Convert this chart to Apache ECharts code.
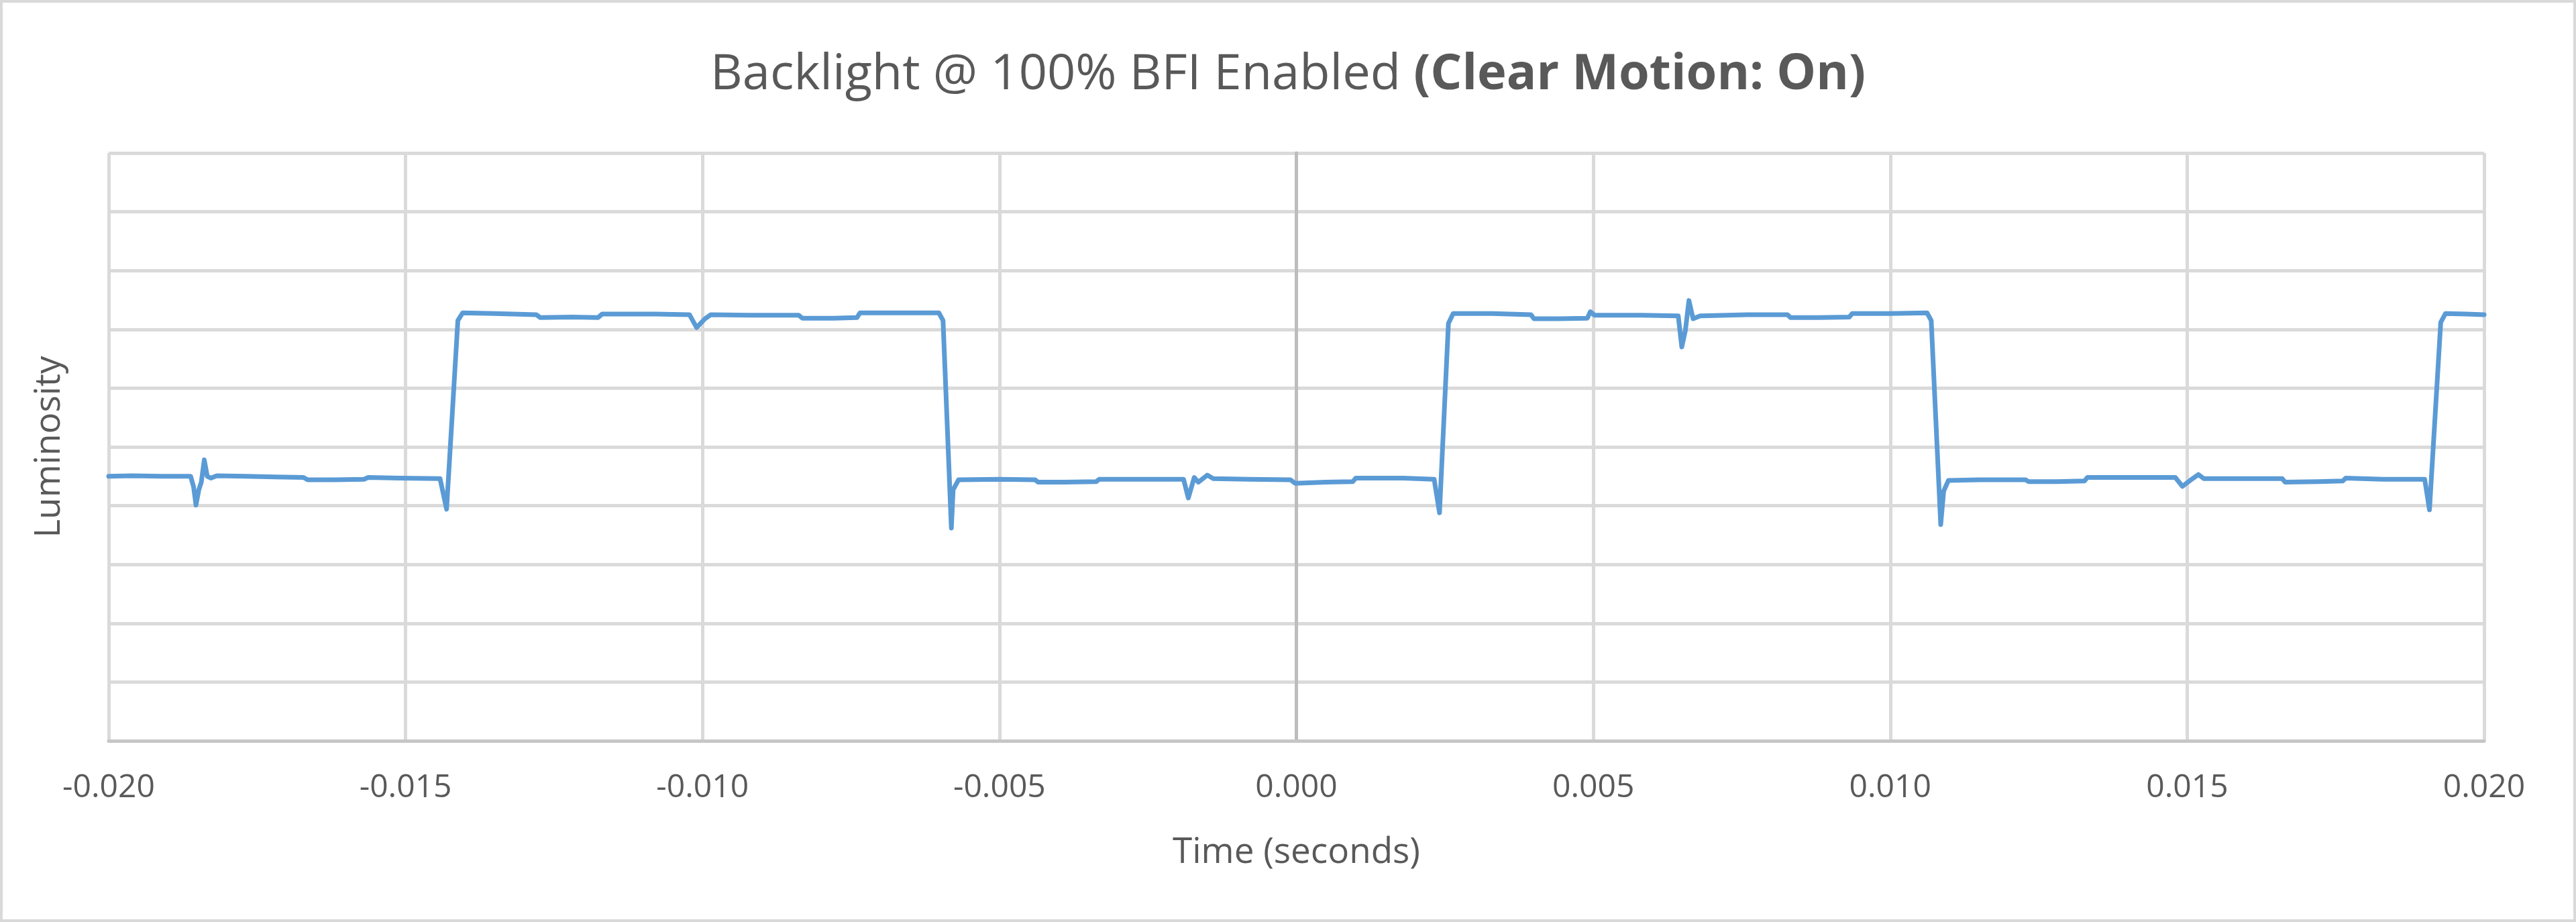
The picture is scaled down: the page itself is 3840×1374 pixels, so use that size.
<!DOCTYPE html>
<html>
<head>
<meta charset="utf-8">
<title>Backlight @ 100% BFI Enabled</title>
<script src="https://cdn.jsdelivr.net/npm/echarts/dist/echarts.min.js"></script>
<style>
  html, body { margin: 0; padding: 0; background: #fff; }
  #chart { width: 3840px; height: 1374px; }
</style>
</head>
<body>
<div id="chart"></div>
<script>
// time axis ticks (seconds)
var xTicks = [-0.020, -0.015, -0.010, -0.005, 0.000, 0.005, 0.010, 0.015, 0.020];

var timeSec = [
  -0.0200, -0.0196, -0.0191, -0.01862, -0.01857, -0.01853, -0.01848, -0.01844, -0.01839, -0.01834,
  -0.01828, -0.01818, -0.0177, -0.01720, -0.01672, -0.01665, -0.0162, -0.01570, -0.01563, -0.0151,
  -0.01442, -0.01431, -0.01412, -0.01404, -0.0135, -0.01280, -0.01273, -0.0122, -0.01176, -0.01169,
  -0.0108, -0.01022, -0.01010, -0.00996, -0.00986, -0.0092, -0.00838, -0.00832, -0.0078, -0.00740,
  -0.00735, -0.0066, -0.00602, -0.00595, -0.00581, -0.00578, -0.00569, -0.0050, -0.00440, -0.00435,
  -0.0039, -0.00337, -0.00332, -0.0025, -0.00190, -0.00182, -0.00172, -0.00165, -0.00150, -0.00140,
  -0.0008, -0.00010, -0.00002, 0.0005, 0.00095, 0.00100, 0.0018, 0.00232, 0.00241, 0.00256,
  0.00264, 0.0033, 0.00395, 0.00400, 0.0044, 0.00490, 0.00495, 0.00502, 0.0058, 0.00643,
  0.00649, 0.00655, 0.00661, 0.00668, 0.00680, 0.0076, 0.00827, 0.00832, 0.0088, 0.00931,
  0.00936, 0.0100, 0.01062, 0.01069, 0.01085, 0.01090, 0.01098, 0.0115, 0.01228, 0.01233,
  0.0128, 0.01327, 0.01332, 0.0140, 0.01480, 0.01492, 0.01505, 0.01519, 0.01528, 0.0160,
  0.01660, 0.01665, 0.0172, 0.01762, 0.01767, 0.0183, 0.01900, 0.01908, 0.01927, 0.01935,
  0.0197, 0.0200
];
var luminosity = [
  4.50, 4.51, 4.50, 4.50, 4.32, 4.01, 4.28, 4.40, 4.78, 4.50,
  4.47, 4.51, 4.50, 4.49, 4.48, 4.44, 4.44, 4.45, 4.48, 4.47,
  4.46, 3.94, 7.15, 7.28, 7.27, 7.25, 7.20, 7.21, 7.20, 7.26,
  7.26, 7.25, 7.03, 7.18, 7.25, 7.24, 7.24, 7.19, 7.19, 7.20,
  7.28, 7.28, 7.28, 7.15, 3.62, 4.27, 4.44, 4.45, 4.44, 4.40,
  4.40, 4.41, 4.45, 4.45, 4.45, 4.13, 4.48, 4.40, 4.52, 4.46,
  4.45, 4.44, 4.38, 4.40, 4.41, 4.47, 4.47, 4.45, 3.88, 7.10,
  7.27, 7.27, 7.25, 7.18, 7.18, 7.19, 7.30, 7.24, 7.24, 7.23,
  6.70, 6.98, 7.49, 7.18, 7.23, 7.25, 7.25, 7.20, 7.20, 7.21,
  7.27, 7.27, 7.28, 7.15, 3.68, 4.25, 4.43, 4.44, 4.44, 4.41,
  4.41, 4.42, 4.48, 4.48, 4.48, 4.33, 4.43, 4.53, 4.46, 4.46,
  4.46, 4.40, 4.41, 4.42, 4.47, 4.45, 4.45, 3.93, 7.12, 7.27,
  7.26, 7.25
];

var points = timeSec.map(function(t, i) {
  return [t, luminosity[i]];
});

var textColor = "#595959";
var gridColor = "#dadada";
var fontName = "Open Sans";

var option = {
  animation: false,
  backgroundColor: "#fff",
  title: {
    left: "center",
    top: 70,
    text: "{a|Backlight @ 100% BFI Enabled }{b|(Clear Motion: On)}",
    textStyle: {
      fontWeight: "normal",
      rich: {
        a: { fontFamily: fontName, fontSize: 74, fontWeight: "normal", color: textColor },
        b: { fontFamily: fontName, fontSize: 74, fontWeight: "bold", color: textColor }
      }
    }
  },
  graphic: [
    {
      // outer chart frame
      type: "rect",
      shape: { x: 2, y: 2, width: 3836, height: 1370 },
      style: { fill: null, stroke: "#d9d9d9", lineWidth: 4 },
      silent: true
    }
  ],
  grid: {
    left: 162,
    right: 137,
    top: 228,
    bottom: 270
  },
  xAxis: {
    type: "value",
    min: xTicks[0],
    max: xTicks[xTicks.length - 1],
    interval: 0.005,
    name: "Time (seconds)",
    nameLocation: "middle",
    nameGap: 140,
    nameTextStyle: { fontFamily: fontName, fontSize: 53, color: textColor },
    axisLine: { show: true, lineStyle: { color: "#c6c6c6", width: 5 } },
    axisTick: { show: false },
    axisLabel: {
      margin: 46,
      showMinLabel: true,
      showMaxLabel: true,
      fontFamily: fontName,
      fontSize: 48,
      color: textColor,
      formatter: function(v) {
        return v.toFixed(3);
      }
    },
    splitLine: { show: true, lineStyle: { color: gridColor, width: 5 } }
  },
  yAxis: [
    {
      type: "value",
      min: 0,
      max: 10,
      interval: 1,
      name: "Luminosity",
      nameLocation: "middle",
      nameGap: 62,
      nameTextStyle: { fontFamily: fontName, fontSize: 53, color: textColor },
      axisLine: { show: false, onZero: false },
      axisTick: { show: false },
      axisLabel: { show: false },
      splitLine: { show: true, lineStyle: { color: gridColor, width: 5 } }
    },
    {
      // vertical axis line crossing at t = 0
      type: "value",
      min: 0,
      max: 10,
      position: "left",
      axisLine: { show: true, onZero: true, lineStyle: { color: "#bdbdbd", width: 5 } },
      axisTick: { show: false },
      axisLabel: { show: false },
      splitLine: { show: false }
    }
  ],
  series: [
    {
      name: "Luminosity",
      type: "line",
      yAxisIndex: 0,
      data: points,
      showSymbol: false,
      symbol: "none",
      smooth: false,
      lineStyle: { color: "#5b9bd5", width: 7, join: "round", cap: "round" },
      z: 5
    }
  ]
};

var chart = echarts.init(document.getElementById("chart"));
chart.setOption(option);
</script>
</body>
</html>
